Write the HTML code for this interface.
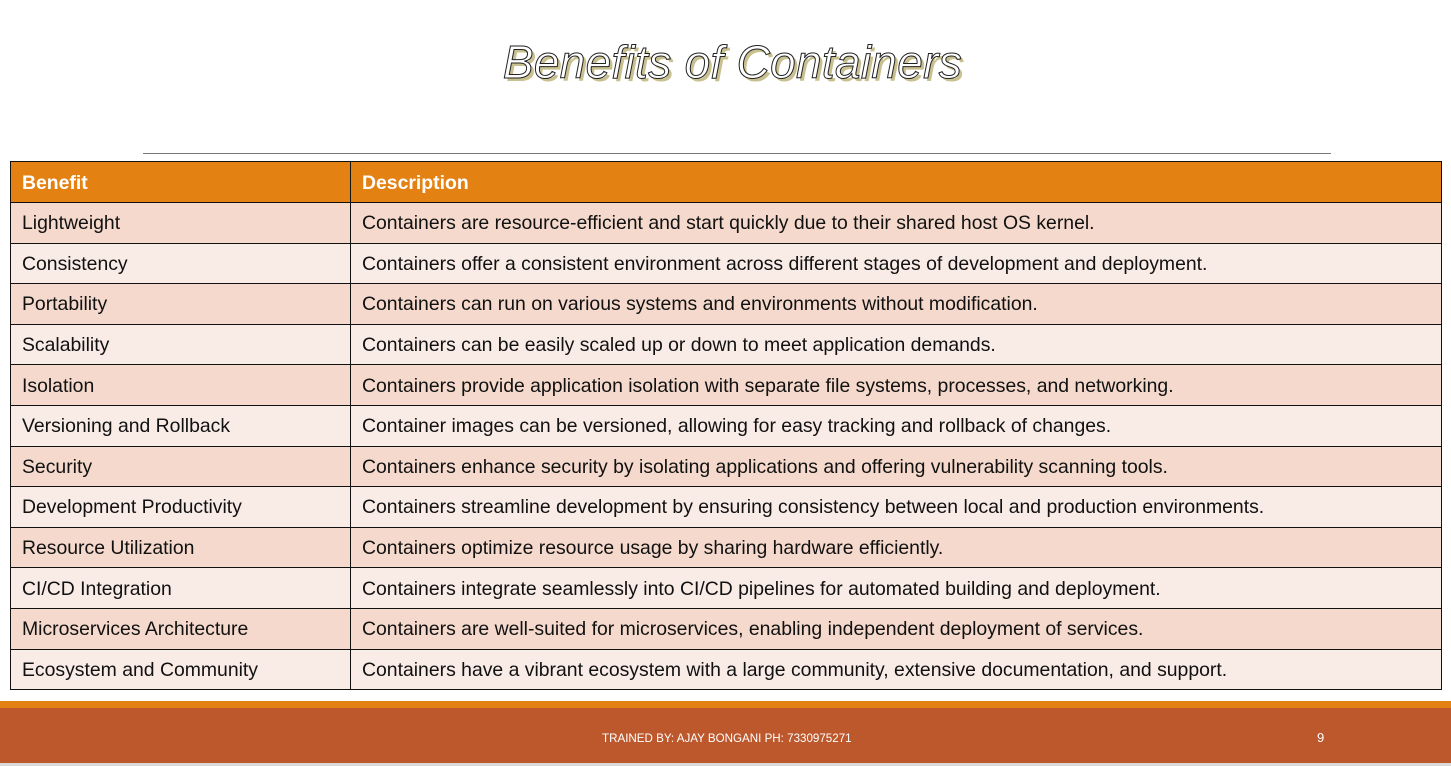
<!DOCTYPE html>
<html><head><meta charset="utf-8"><style>
*{margin:0;padding:0;box-sizing:border-box}
body{width:1451px;height:766px;background:#fff;position:relative;overflow:hidden;font-family:"Liberation Sans",sans-serif}
.title{position:absolute;left:0;width:1465px;top:35px;text-align:center;font-size:46px;font-style:italic;color:#fff;-webkit-text-stroke:1px #222;text-shadow:3px 3px 0 #c9c08f;letter-spacing:0.3px}
.hr{position:absolute;left:143px;width:1188px;top:153px;height:1px;background:#777}
table{position:absolute;left:10px;top:161px;width:1432px;border-collapse:collapse;font-size:19.4px;color:#111}
td{border:1.5px solid #111;height:40.6px;padding:2px 0 0 11px;vertical-align:middle;white-space:nowrap}
tr.h td{background:#e38213;color:#fff;font-weight:bold;height:41px}
tr:nth-child(even) td{background:#f4d9cc}
tr:nth-child(odd):not(.h) td{background:#f9ebe6}
td:first-child{width:340px}
.o{position:absolute;left:0;top:701px;width:1451px;height:7px;background:#e38213}
.f{position:absolute;left:0;top:708px;width:1451px;height:55px;background:#bd582d;color:#fff}
.g{position:absolute;left:0;top:763px;width:1451px;height:3px;background:#d9d9d9}
.ft{position:absolute;left:602px;top:24px;font-size:11.6px}
.pn{position:absolute;left:1317px;top:22px;font-size:13px}
</style></head><body>
<div class="title">Benefits of Containers</div>
<div class="hr"></div>
<table>
<tr class="h"><td>Benefit</td><td>Description</td></tr>
<tr><td>Lightweight</td><td>Containers are resource-efficient and start quickly due to their shared host OS kernel.</td></tr>
<tr><td>Consistency</td><td>Containers offer a consistent environment across different stages of development and deployment.</td></tr>
<tr><td>Portability</td><td>Containers can run on various systems and environments without modification.</td></tr>
<tr><td>Scalability</td><td>Containers can be easily scaled up or down to meet application demands.</td></tr>
<tr><td>Isolation</td><td>Containers provide application isolation with separate file systems, processes, and networking.</td></tr>
<tr><td>Versioning and Rollback</td><td>Container images can be versioned, allowing for easy tracking and rollback of changes.</td></tr>
<tr><td>Security</td><td>Containers enhance security by isolating applications and offering vulnerability scanning tools.</td></tr>
<tr><td>Development Productivity</td><td>Containers streamline development by ensuring consistency between local and production environments.</td></tr>
<tr><td>Resource Utilization</td><td>Containers optimize resource usage by sharing hardware efficiently.</td></tr>
<tr><td>CI/CD Integration</td><td>Containers integrate seamlessly into CI/CD pipelines for automated building and deployment.</td></tr>
<tr><td>Microservices Architecture</td><td>Containers are well-suited for microservices, enabling independent deployment of services.</td></tr>
<tr><td>Ecosystem and Community</td><td>Containers have a vibrant ecosystem with a large community, extensive documentation, and support.</td></tr>
</table>
<div class="o"></div>
<div class="f"><div class="ft">TRAINED BY: AJAY BONGANI PH: 7330975271</div><div class="pn">9</div></div>
<div class="g"></div>
</body></html>
